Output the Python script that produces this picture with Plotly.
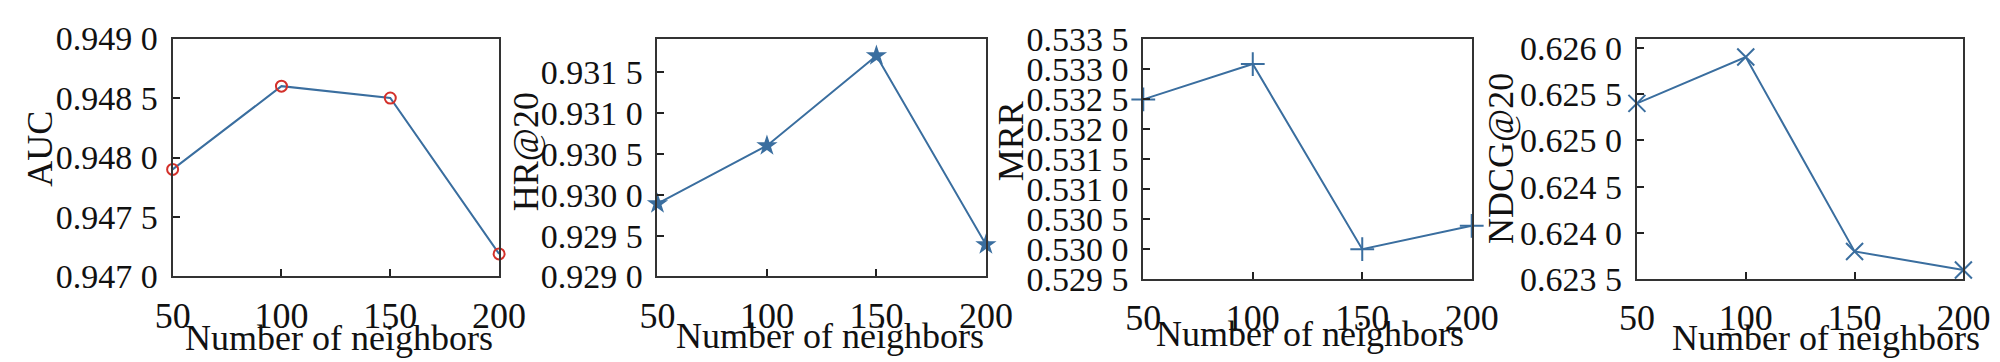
import plotly.graph_objects as go

W, H = 2000, 362

neighbors = [50, 100, 150, 200]
auc = [0.94790, 0.94860, 0.94850, 0.94719]
hr20 = [0.92989, 0.93060, 0.93170, 0.92939]
mrr = [0.53250, 0.53309, 0.53000, 0.53039]
ndcg20 = [0.62540, 0.62590, 0.62380, 0.62360]

metric_names = ["AUC", "HR@20", "MRR", "NDCG@20"]
x_title = "Number of neighbors"
x_ticks = [50, 100, 150, 200]
y_ticks = [
    [0.9470, 0.9475, 0.9480, 0.9485, 0.9490],
    [0.9290, 0.9295, 0.9300, 0.9305, 0.9310, 0.9315],
    [0.5295, 0.5300, 0.5305, 0.5310, 0.5315, 0.5320, 0.5325, 0.5330, 0.5335],
    [0.6235, 0.6240, 0.6245, 0.6250, 0.6255, 0.6260],
]
y_tick_text = [
    ["0.947 0", "0.947 5", "0.948 0", "0.948 5", "0.949 0"],
    ["0.929 0", "0.929 5", "0.930 0", "0.930 5", "0.931 0", "0.931 5"],
    ["0.529 5", "0.530 0", "0.530 5", "0.531 0", "0.531 5", "0.532 0", "0.532 5", "0.533 0", "0.533 5"],
    ["0.623 5", "0.624 0", "0.624 5", "0.625 0", "0.625 5", "0.626 0"],
]
y_ranges = [[0.9470, 0.9490], [0.9290, 0.93191], [0.5295, 0.5335], [0.6235, 0.62610]]

series = [auc, hr20, mrr, ndcg20]

# pixel boxes of each plot area: (left, right, top, bottom)
boxes = [(150, 484, 14, 279), (646, 982, 14, 279), (1143, 1479, 15, 282), (1648, 1982, 14, 282)]
ytitle_x = [14, 511, 1008, 1509]
ytitle_y = [137, 140, 128, 148]
xtitle_pos = [(320, 348), (822, 345), (1314, 343), (1841, 348)]

LINE = "#3a6e9f"
RED = "#d3302a"
FONT = "Liberation Serif, Times New Roman, serif"

markers = [
    dict(symbol="circle-open", size=11, color=RED, line=dict(width=2, color=RED)),
    dict(symbol="star", size=16, color=LINE, line=dict(width=0)),
    dict(symbol="cross-thin-open", size=17, color=LINE, line=dict(width=2, color=LINE)),
    dict(symbol="x-thin-open", size=17, color=LINE, line=dict(width=2, color=LINE)),
]

fig = go.Figure()
annotations = []
for i in range(4):
    l, r, t, b = boxes[i]
    xa = "xaxis" if i == 0 else f"xaxis{i+1}"
    ya = "yaxis" if i == 0 else f"yaxis{i+1}"
    xr = "x" if i == 0 else f"x{i+1}"
    yr = "y" if i == 0 else f"y{i+1}"
    fig.add_trace(go.Scatter(
        x=neighbors, y=series[i], mode="lines+markers",
        line=dict(color=LINE, width=2), marker=markers[i],
        xaxis=xr, yaxis=yr, cliponaxis=False, showlegend=False,
    ))
    fig.layout[xa] = dict(
        domain=[l / W, r / W], anchor=yr, range=[50, 200],
        tickmode="array", tickvals=x_ticks, ticktext=[str(v) for v in x_ticks],
        ticks="inside", ticklen=7, tickwidth=1.5, tickcolor="#222",
        showline=True, linecolor="#333", linewidth=2, mirror=True,
        showgrid=False, zeroline=False,
        tickfont=dict(family=FONT, size=36, color="#111"), ticklabelstandoff=6,
    )
    fig.layout[ya] = dict(
        domain=[1 - b / H, 1 - t / H], anchor=xr, range=y_ranges[i],
        tickmode="array", tickvals=y_ticks[i], ticktext=y_tick_text[i],
        ticks="inside", ticklen=7, tickwidth=1.5, tickcolor="#222",
        showline=True, linecolor="#333", linewidth=2, mirror=True,
        showgrid=False, zeroline=False,
        tickfont=dict(family=FONT, size=34, color="#111"), ticklabelstandoff=6,
    )
    annotations.append(dict(
        text=metric_names[i], xref="paper", yref="paper",
        x=ytitle_x[i] / W, y=1 - ytitle_y[i] / H, textangle=-90,
        showarrow=False, xanchor="center", yanchor="middle",
        font=dict(family=FONT, size=36, color="#111"),
    ))
    annotations.append(dict(
        text=x_title, xref="paper", yref="paper",
        x=xtitle_pos[i][0] / W, y=1 - xtitle_pos[i][1] / H,
        showarrow=False, xanchor="center", yanchor="middle",
        font=dict(family=FONT, size=36, color="#111"),
    ))

fig.update_layout(
    width=W, height=H, margin=dict(l=0, r=0, t=0, b=0),
    paper_bgcolor="white", plot_bgcolor="white",
    annotations=annotations,
)
fig.write_html("out.html")
